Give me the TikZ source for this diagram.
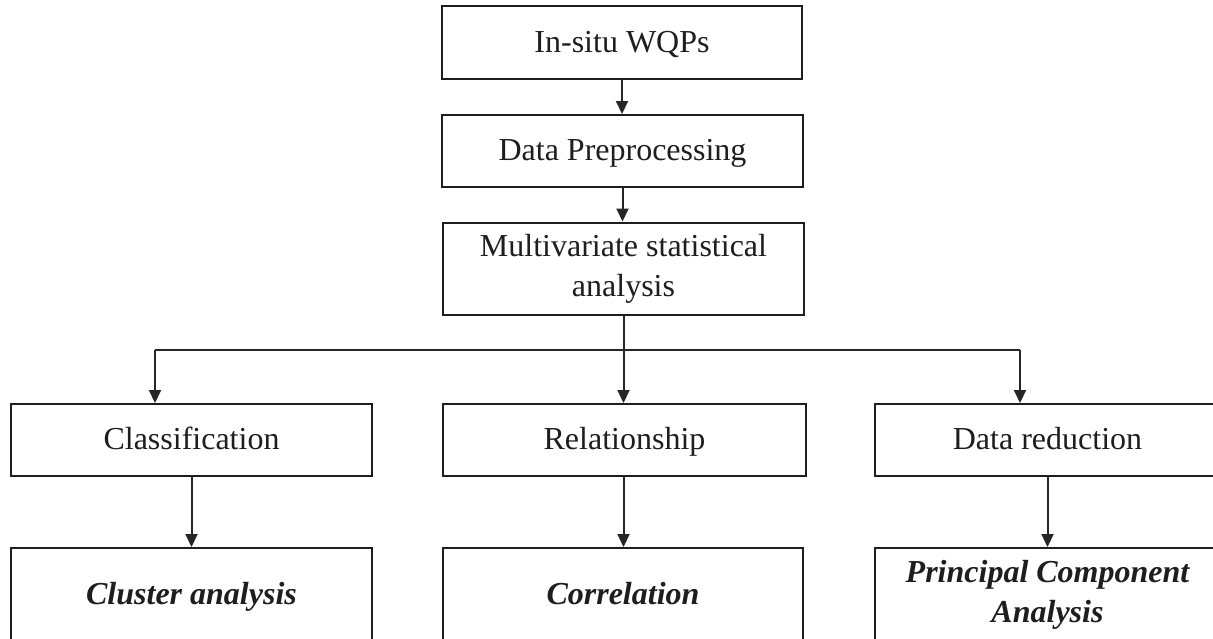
\documentclass[tikz,border=0pt]{standalone}
\usepackage{fontspec}
\setmainfont{Liberation Serif}
\usetikzlibrary{arrows.meta}
\definecolor{ink}{HTML}{1E1E1E}
\definecolor{wire}{HTML}{262626}
\begin{document}
\begin{tikzpicture}[x=1pt,y=-1pt,
  box/.style={draw=ink, line width=2pt, fill=white, inner sep=0pt,
    text=ink, align=center, font=\fontsize{32}{40}\selectfont},
  oneline/.style={text height=24pt, text depth=5pt},
  row/.style={box, oneline, minimum height=72pt},
  tall/.style={box, minimum height=92pt},
  emph/.style={font=\fontsize{32}{40}\selectfont\bfseries\itshape},
  leaf/.style={box, oneline, emph, minimum height=94pt},
  leaftwo/.style={box, emph, minimum height=94pt},
  conn/.style={draw=wire, line width=2pt},
  arr/.style={conn, -{Triangle[length=13pt,width=12pt]}}]
\useasboundingbox (0,0) rectangle (1213,638);
\clip (0,0) rectangle (1213,638);
\fill[white] (0,0) rectangle (1213,638);

% main chain
\node[row, minimum width=360pt, minimum height=73pt] (wqp)  at (622,42.5) {In-situ WQPs};
\node[row, minimum width=361pt] (prep) at (622.5,151) {Data Preprocessing};
\node[tall, minimum width=361pt] (msa)  at (623.5,268.5) {Multivariate statistical\\analysis};

% three branches
\node[row, minimum width=361pt] (cls) at (191.5,440) {Classification};
\node[row, minimum width=363pt] (rel) at (624.5,440) {Relationship};
\node[row, minimum width=345pt] (red) at (1047.5,440) {Data reduction};

% methods
\node[leaf, minimum width=361pt] (clu) at (191.5,595) {Cluster analysis};
\node[leaf, minimum width=360pt] (cor) at (623,595) {Correlation};
\node[leaftwo, minimum width=345pt] (pca) at (1047.5,595) {Principal Component\\Analysis};

% connectors
\draw[arr] (wqp.south) -- (wqp.south |- prep.north);
\draw[arr] (prep.south) -- (prep.south |- msa.north);

\coordinate (jl) at (155,350);
\coordinate (jr) at (1020,350);
\draw[conn] (jl) -- (jr);
\draw[arr] (msa.south) -- (msa.south |- rel.north);
\draw[arr] (jl) -- (jl |- cls.north);
\draw[arr] (jr) -- (jr |- red.north);

\draw[arr] (cls.south) -- (cls.south |- clu.north);
\draw[arr] (rel.south -| msa.south) -- (msa.south |- cor.north);
\draw[arr] (red.south) -- (red.south |- pca.north);
\end{tikzpicture}
\end{document}
